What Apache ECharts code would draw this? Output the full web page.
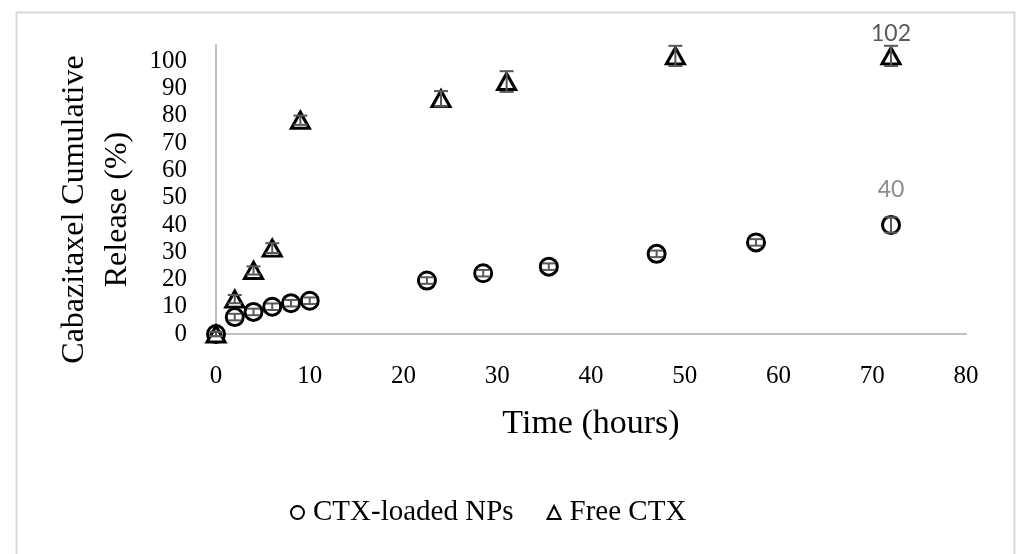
<!DOCTYPE html>
<html>
<head>
<meta charset="utf-8">
<script src="https://cdn.jsdelivr.net/npm/echarts@6/dist/echarts.min.js"></script>
<style>
html,body{margin:0;padding:0;background:#fff;}
#chart{width:1016px;height:554px;}
</style>
</head>
<body>
<div id="chart"></div>
<script>
// Data
const npTime = [0, 2, 4, 6, 8, 10, 22.5, 28.5, 35.5, 47, 57.6, 72];
const npRelease = [0, 6.2, 8.1, 10.0, 11.3, 12.2, 19.6, 22.3, 24.7, 29.4, 33.6, 40];
const npError = [0.8, 1.2, 1.2, 1.2, 1.2, 1.2, 1.2, 1.2, 1.2, 1.2, 1.2, 2.8];

const freeTime = [0, 2, 4, 6, 9, 24, 31, 49, 72];
const freeRelease = [0, 12.8, 23.3, 31.5, 78.4, 86.3, 92.6, 102, 102];
const freeError = [0.8, 1.5, 1.5, 1.8, 1.7, 2.8, 3.8, 3.7, 3.7];

const seriesNames = ['CTX-loaded NPs', 'Free CTX'];
const xTicks = [0, 10, 20, 30, 40, 50, 60, 70, 80];
const yTicks = [0, 10, 20, 30, 40, 50, 60, 70, 80, 90, 100];

const serif = '"Liberation Serif", "DejaVu Serif", serif';

function pts(xs, ys) { return xs.map((x, i) => [x, ys[i]]); }
function errPts(xs, ys, es) { return xs.map((x, i) => [x, ys[i], es[i]]); }

function errorRender(capHalf) {
  return function (params, api) {
    const x = api.value(0), y = api.value(1), e = api.value(2);
    const lo = api.coord([x, y - e]);
    const hi = api.coord([x, y + e]);
    const st = { stroke: '#595959', lineWidth: 2 };
    return {
      type: 'group',
      children: [
        { type: 'line', shape: { x1: lo[0], y1: lo[1], x2: hi[0], y2: hi[1] }, style: st },
        { type: 'line', shape: { x1: lo[0] - capHalf, y1: lo[1], x2: lo[0] + capHalf, y2: lo[1] }, style: st },
        { type: 'line', shape: { x1: hi[0] - capHalf, y1: hi[1], x2: hi[0] + capHalf, y2: hi[1] }, style: st }
      ]
    };
  };
}

function lastLabel(data, dist, color) {
  return data.map((d, i) => i === data.length - 1
    ? { value: d, label: { show: true, position: 'top', distance: dist, color: color,
        fontFamily: 'Lato, "Liberation Sans", sans-serif', fontSize: 23,
        formatter: p => String(Math.round(p.value[1])) } }
    : d);
}

const chart = echarts.init(document.getElementById('chart'), null, { renderer: 'canvas' });

chart.setOption({
  backgroundColor: '#ffffff',
  animation: false,
  graphic: [{
    type: 'rect', left: 14, top: 10, z: -10,
    shape: { x: 0, y: 0, width: 998, height: 620 },
    style: { fill: 'none', stroke: '#d9d9d9', lineWidth: 2 }
  }],
  grid: { left: 216, right: 50, top: 45, bottom: 220, containLabel: false },
  legend: {
    left: 285, top: 493,
    itemWidth: 13, itemHeight: 13, itemGap: 33,
    textStyle: { fontFamily: serif, fontSize: 29, color: '#000', padding: [0, 0, 0, 4] },
    data: [
      { name: seriesNames[0], icon: 'circle', itemStyle: { color: '#fff', borderColor: '#000', borderWidth: 2 } },
      { name: seriesNames[1], icon: 'triangle', itemStyle: { color: '#fff', borderColor: '#000', borderWidth: 2 } }
    ]
  },
  xAxis: {
    type: 'value', min: 0, max: 80, interval: 10,
    name: 'Time (hours)', nameLocation: 'middle', nameGap: 73,
    nameTextStyle: { fontFamily: serif, fontSize: 34, color: '#000' },
    axisLine: { show: true, lineStyle: { color: '#bfbfbf', width: 2 } },
    axisTick: { show: false },
    splitLine: { show: false },
    axisLabel: { margin: 30, fontFamily: serif, fontSize: 25, color: '#000',
      formatter: v => xTicks.indexOf(v) >= 0 ? String(v) : '' }
  },
  yAxis: {
    type: 'value', min: 0, max: 106, interval: 10,
    name: 'Cabazitaxel Cumulative\nRelease (%)', nameLocation: 'middle', nameRotate: 90, nameGap: 75,
    nameTextStyle: { fontFamily: serif, fontSize: 32, color: '#000', lineHeight: 43, padding: [0, 40, 0, 0] },
    axisLine: { show: true, lineStyle: { color: '#bfbfbf', width: 2 } },
    axisTick: { show: false },
    splitLine: { show: false },
    axisLabel: { margin: 29, fontFamily: serif, fontSize: 25, color: '#000',
      formatter: v => yTicks.indexOf(v) >= 0 ? String(v) : '' }
  },
  series: [
    {
      name: seriesNames[0], type: 'scatter', clip: false, z: 3,
      symbol: 'circle', symbolSize: 17,
      itemStyle: { color: '#fff', borderColor: '#000', borderWidth: 3, opacity: 1 },
      data: lastLabel(pts(npTime, npRelease), 14, '#8c8c8c')
    },
    {
      name: seriesNames[1], type: 'scatter', clip: false, z: 3,
      symbol: 'triangle', symbolSize: [18, 16],
      itemStyle: { color: '#fff', borderColor: '#000', borderWidth: 3, opacity: 1 },
      data: lastLabel(pts(freeTime, freeRelease), 1, '#595959')
    },
    {
      name: 'npErr', type: 'custom', z: 4, silent: true,
      renderItem: errorRender(6.5),
      encode: { x: 0, y: 1 },
      data: errPts(npTime, npRelease, npError)
    },
    {
      name: 'freeErr', type: 'custom', z: 4, silent: true,
      renderItem: errorRender(7),
      encode: { x: 0, y: 1 },
      data: errPts(freeTime, freeRelease, freeError)
    }
  ]
});
</script>
</body>
</html>
